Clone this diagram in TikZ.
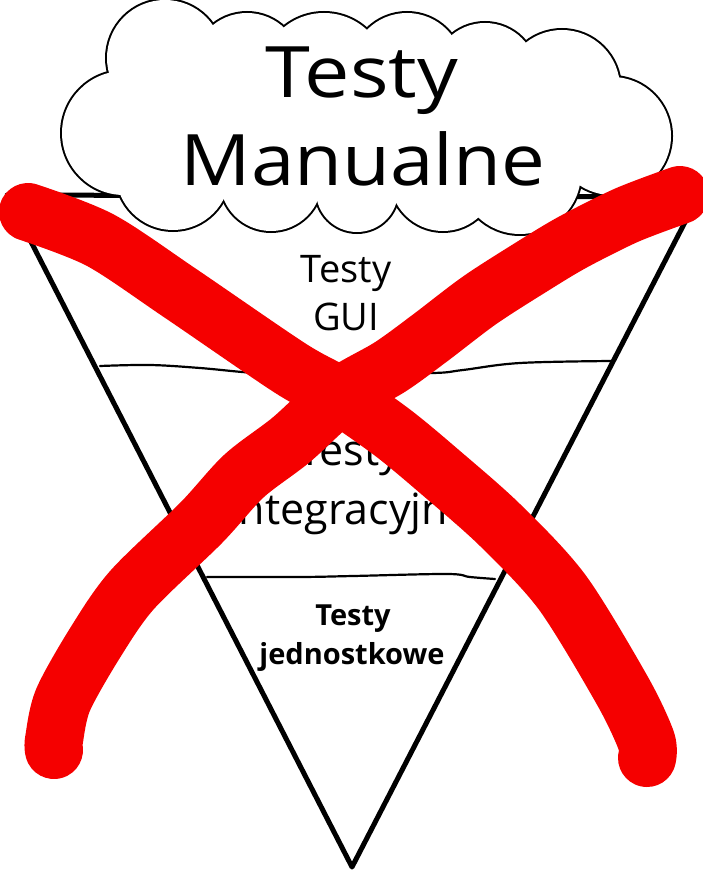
\documentclass[tikz,border=0pt]{standalone}
\usepackage{fontspec}
\setmainfont{Open Sans}
\definecolor{xred}{RGB}{245,0,0}
\begin{document}
\begin{tikzpicture}[x=1pt,y=-1pt,
  cone/.style={line width=5pt, line join=round, line cap=round},
  layerline/.style={line width=2.2pt, line cap=round},
  lobeline/.style={line width=4pt},
  redstroke/.style={draw=xred, line width=58pt, line cap=round, line join=round},
  lbl/.style={anchor=base, inner sep=0pt, outer sep=0pt},
  bigtxt/.style={lbl, font=\fontsize{71}{80}\selectfont},
  guitxt/.style={lbl, font=\fontsize{38}{46}\selectfont},
  inttxt/.style={lbl, font=\fontsize{43}{52}\selectfont},
  unittxt/.style={lbl, font=\bfseries\fontsize{29}{36}\selectfont}]
\useasboundingbox (0,0) rectangle (702,874);
\fill[white] (0,0) rectangle (702,874);

% cone
\draw[cone] (7,195) -- (698,197) -- (352,867) -- cycle;
% layer lines
\draw[layerline] plot[smooth, tension=0.6] coordinates {(100,366) (150,365) (200,368) (257,373) (300,372) (350,373) (433,373) (463,370) (520,363) (612,361)};
\draw[layerline] plot[smooth, tension=0.6] coordinates {(207,577) (300,577) (353,576) (447,574) (470,577) (495,579)};

% cloud
\def\lobes{124/133/62, 165/58/58, 247/67/54, 324/76/63, 407/69/56, 485/75/52, 562/88/58, 612/136/59, 520/173/61, 443/178/53, 357/191/41, 271/180/51, 173/173/57}
\foreach \cx/\cy/\r in \lobes { \draw[lobeline] (\cx,\cy) circle[radius=\r]; }
\foreach \cx/\cy/\r in \lobes { \fill[white] (\cx,\cy) circle[radius=\r]; }
\fill[white] (124,133) -- (165,58) -- (247,67) -- (324,76) -- (407,69) -- (485,75) -- (562,88) -- (612,136) -- (520,173) -- (443,178) -- (357,191) -- (271,180) -- (173,173) -- cycle;

% texts
\node[bigtxt] (man1) at (362,98) {\scalebox{1.14}[1]{Testy}};
\node[bigtxt] (man2) at (363,186) {\scalebox{1.1}[1]{Manualne}};
\node[guitxt] (gui1) at (346,282) {Testy};
\node[guitxt] (gui2) at (346,330) {GUI};
\node[inttxt] (int1) at (350,465) {Testy};
\node[inttxt] (int2) at (350,524) {integracyjne};
\node[unittxt] (unit1) at (353,625) {Testy};
\node[unittxt] (unit2) at (352,664) {jednostkowe};

% red X
\draw[redstroke] plot[smooth, tension=0.5] coordinates {(28,212) (100,240) (180,293) (290,368) (340,396) (393,433) (440,472) (500,525) (562,592) (622,690) (646,740) (647,758)};
\draw[redstroke] plot[smooth, tension=0.5] coordinates {(680,195) (627,215) (573,242) (533,266) (480,300) (430,338) (390,367) (340,396) (291,440) (244,476) (201,523) (132,590) (95,643) (63,700) (54,740) (54,750)};
\end{tikzpicture}
\end{document}
